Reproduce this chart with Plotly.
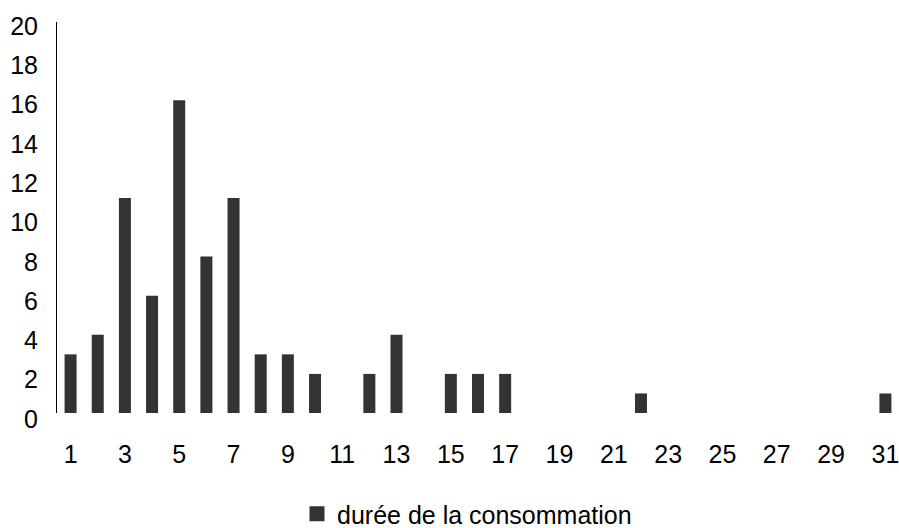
import plotly.graph_objects as go

categories = list(range(1, 32))
values = [3, 4, 11, 6, 16, 8, 11, 3, 3, 2, 0, 2, 4, 0, 2, 2, 2, 0, 0, 0, 0, 1,
          0, 0, 0, 0, 0, 0, 0, 0, 1]
x_tick_vals = list(range(1, 32, 2))
y_tick_vals = list(range(0, 21, 2))
series_name = "durée de la consommation"

W, H = 899, 528
L = 57
T, B = 21, 419          # plot area top/bottom pixels
ph = B - T
pw = W - L
y_main_bottom, y_main_top = 413, 22
y_lab_bottom, y_lab_top = 419, 26
BAR_COLOR = "#333333"

FONT = dict(family="Liberation Sans, Arial, sans-serif", size=25, color="#000000")

fig = go.Figure()
fig.add_trace(go.Bar(x=categories, y=values, name=series_name,
                     marker=dict(color=BAR_COLOR, line=dict(width=0)),
                     showlegend=False))
# legend proxy with a larger square swatch
fig.add_trace(go.Scatter(x=[None], y=[None], name=series_name, mode="markers",
                         marker=dict(symbol="square", size=15, color=BAR_COLOR),
                         showlegend=True, hoverinfo="skip"))
# helper trace so the (shifted) label axis is drawn
fig.add_trace(go.Scatter(x=[None], y=[None], xaxis="x2", yaxis="y2", showlegend=False,
                         hoverinfo="skip", mode="markers"))

fig.update_layout(
    width=W, height=H,
    margin=dict(l=L, r=0, t=T, b=H - B, autoexpand=False),
    paper_bgcolor="white", plot_bgcolor="rgba(0,0,0,0)",
    font=FONT,
    bargap=0.558,
    xaxis=dict(range=[0.5, 31.5], domain=[0, 1], tickmode="array", tickvals=x_tick_vals,
               ticktext=[str(v) for v in x_tick_vals],
               showgrid=False, zeroline=False, showline=False,
               ticks="outside", ticklen=19, tickcolor="rgba(0,0,0,0)",
               tickfont=FONT, anchor="y", automargin=False,
               ticklabeloverflow="allow"),
    yaxis=dict(range=[0, 20], domain=[(B - y_main_bottom) / ph, (B - y_main_top) / ph],
               anchor="x",
               showgrid=False, zeroline=False, showline=True, linecolor="#000000",
               linewidth=1, showticklabels=False, ticks="", automargin=False),
    xaxis2=dict(range=[0.5, 31.5], domain=[0, 1], anchor="y2", visible=False,
                automargin=False),
    yaxis2=dict(range=[0, 20], domain=[(B - y_lab_bottom) / ph, (B - y_lab_top) / ph],
                anchor="x2", side="left",
                tickmode="array", tickvals=y_tick_vals,
                ticktext=[str(v) for v in y_tick_vals],
                showgrid=False, zeroline=False, showline=False,
                ticks="outside", ticklen=13, tickcolor="rgba(0,0,0,0)",
                tickfont=FONT, automargin=False, ticklabeloverflow="allow"),
    legend=dict(orientation="h", x=(297 - L) / pw, xanchor="left", y=(B - 514) / ph,
                yanchor="middle", font=FONT, bgcolor="rgba(0,0,0,0)",
                itemsizing="trace"),
)

fig.write_html("out.html",
               config={"displayModeBar": False},
               post_script="document.body.style.margin='0';"
                           "document.body.style.overflow='hidden';")
